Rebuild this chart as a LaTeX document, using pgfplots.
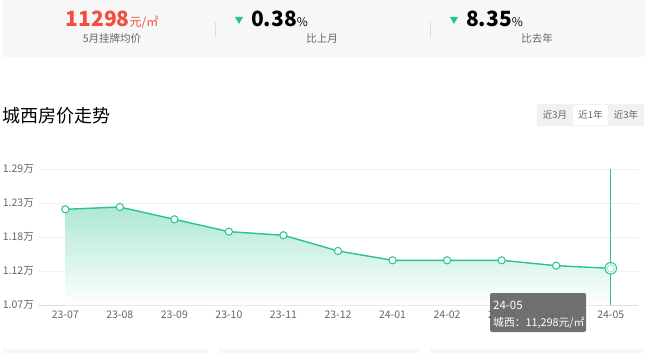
\documentclass[border=0pt]{standalone}
\usepackage{fontspec}
\setmainfont{Noto Sans CJK SC}
\usepackage{pgfplots}
\pgfplotsset{compat=1.18}
\definecolor{lg}{RGB}{40,196,138}
\definecolor{redc}{RGB}{242,78,60}
\definecolor{bannerbg}{RGB}{247,247,247}
\definecolor{divc}{RGB}{221,221,221}
\definecolor{txtg}{RGB}{102,102,102}
\definecolor{gridc}{RGB}{240,240,240}
\definecolor{btnbg}{RGB}{240,241,243}
\definecolor{tipbg}{RGB}{105,105,105}
\pgfplotstableread{
x y
0 12253
1 12290
2 12091
3 11891
4 11833
5 11579
6 11428
7 11428
8 11428
9 11341
10 11298
}\price
\begin{document}
\begin{tikzpicture}[x=1pt,y=1pt]
\useasboundingbox (0,0) rectangle (650,-353);
\fill[white] (0,0) rectangle (650,-353);
% banner
\fill[bannerbg] (2,0) rectangle (645,-57);
\draw[divc] (215,-22) -- (215,-37);
\draw[divc] (430,-22) -- (430,-37);
\node[anchor=base, inner sep=0, text=redc] at (112,-27) {{\fontsize{21}{22}\selectfont\bfseries 11298}{\fontsize{12}{12}\selectfont 元/㎡}};
\node[anchor=base, inner sep=0, text=txtg, font=\fontsize{10.5}{12}\selectfont] at (112,-43) {5月挂牌均价};
\fill[lg] (235,-17) -- (243,-17) -- (239,-24) -- cycle;
\node[anchor=base west, inner sep=0] at (251,-27) {{\fontsize{21}{22}\selectfont\bfseries 0.38}{\fontsize{12}{12}\selectfont\%}};
\node[anchor=base, inner sep=0, text=txtg, font=\fontsize{10.5}{12}\selectfont] at (322,-43) {比上月};
\fill[lg] (450,-17) -- (458,-17) -- (454,-24) -- cycle;
\node[anchor=base west, inner sep=0] at (466,-27) {{\fontsize{21}{22}\selectfont\bfseries 8.35}{\fontsize{12}{12}\selectfont\%}};
\node[anchor=base, inner sep=0, text=txtg, font=\fontsize{10.5}{12}\selectfont] at (537,-43) {比去年};
% title
\node[anchor=base west, inner sep=0, font=\fontsize{18}{20}\selectfont] at (2,-122) {城西房价走势};
% buttons
\fill[btnbg] (537,-104) rectangle (644,-126);
\fill[white] (573,-105) rectangle (608,-125);
\node[anchor=center, inner sep=0, text=txtg, font=\fontsize{9.5}{11}\selectfont] at (555,-115) {近3月};
\node[anchor=center, inner sep=0, text=txtg, font=\fontsize{9.5}{11}\selectfont] at (590.5,-115) {近1年};
\node[anchor=center, inner sep=0, text=txtg, font=\fontsize{9.5}{11}\selectfont] at (626,-115) {近3年};
% bottom cards
\fill[bannerbg] (2,-349) rectangle (208,-353);
\fill[bannerbg] (218,-349) rectangle (420,-353);
\fill[bannerbg] (430,-349) rectangle (645,-353);
\begin{axis}[
  at={(38pt,-305.3pt)}, anchor=south west,
  scale only axis, width=600pt, height=136pt,
  xmin=-0.5, xmax=10.5, ymin=10700, ymax=12900,
  scaled y ticks=false,
  axis line style={draw=none},
  axis x line*=bottom, axis y line*=left,
  x axis line style={draw=divc},
  xtick={0,...,10},
  xticklabels={23-07,23-08,23-09,23-10,23-11,23-12,24-01,24-02,24-03,24-04,24-05},
  ytick={10700,11250,11800,12350,12900},
  yticklabels={1.07万,1.12万,1.18万,1.23万,1.29万},
  major tick length=0pt,
  ymajorgrids, grid style={draw=gridc, line width=0.8pt},
  tick label style={text=txtg, font=\fontsize{10.5}{12}\selectfont},
  xticklabel style={inner sep=0, anchor=north, yshift=-5pt},
  yticklabel style={inner sep=0, anchor=east, xshift=-4pt},
  clip=false,
]
\addplot[draw=none, top color=lg!38, bottom color=white, forget plot]
  table[x=x,y=y] {\price} -- (axis cs:10,10700) -- (axis cs:0,10700) -- cycle;
\addplot[lg, line width=1.4pt, mark=*, mark size=3.6pt, mark options={fill=white, draw=lg, line width=1pt}]
  table[x=x,y=y] {\price};
\addplot[lg, line width=1pt] coordinates {(10,10700) (10,12900)};
\addplot[only marks, mark=*, mark size=5.8pt, mark options={fill=white, fill opacity=0.6, draw=lg, line width=1pt}] coordinates {(10,11298)};
\end{axis}
% tooltip
\fill[tipbg, opacity=0.95, rounded corners=2pt] (490,-293) rectangle (586,-332);
\node[anchor=base west, inner sep=0, text=white, font=\fontsize{11.5}{12}\selectfont] at (493,-309) {24-05};
\node[anchor=base west, inner sep=0, text=white, font=\fontsize{10.8}{12}\selectfont] at (493,-326) {城西：11,298元/㎡};
\end{tikzpicture}
\end{document}
